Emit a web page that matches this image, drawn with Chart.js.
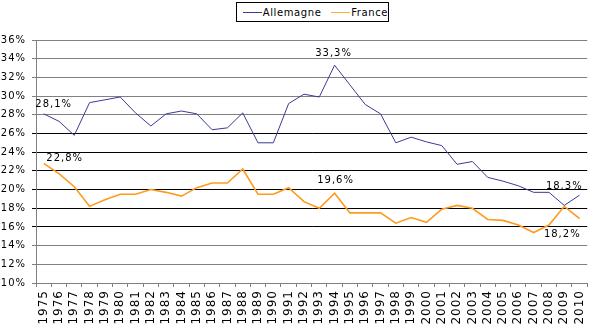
<!DOCTYPE html>
<html>
<head>
<meta charset="utf-8">
<script src="https://cdn.jsdelivr.net/npm/chart.js@4"></script>
<style>
  body { margin: 0; background: #fff; }
  #wrap { position: relative; width: 597px; height: 330px; }
  #legend {
    position: absolute; left: 236px; top: 2px; width: 151px; height: 18px;
    border: 1px solid #000; background: #fff;
    font: 10px "DejaVu Sans", Verdana, sans-serif; letter-spacing: 0.6px; color: #000;
    display: flex; align-items: center;
  }
  #legend span.line { display: inline-block; width: 19px; height: 0; margin: 0 1px 0 6px; }
</style>
</head>
<body>
<div id="wrap">
  <canvas id="chart" width="597" height="330"></canvas>
  <div id="legend">
    <span class="line" style="border-top:1px solid #3A3A96"></span><span>Allemagne</span>
    <span class="line" style="border-top:1px solid #FFB030;margin-left:10px"></span><span>France</span>
  </div>
</div>
<script>
// --- data ---
const years = [];
for (let y = 1975; y <= 2010; y++) years.push(String(y));

const allemagne = [28.1, 27.3, 25.8, 29.3, 29.6, 29.9, 28.2, 26.8, 28.1, 28.4, 28.1, 26.4, 26.6, 28.2, 25.0, 25.0,
                   29.2, 30.2, 29.9, 33.3, 31.2, 29.1, 28.1, 25.0, 25.6, 25.1, 24.7, 22.7, 23.0, 21.3, 20.9, 20.4,
                   19.7, 19.7, 18.3, 19.4];
const france = [22.8, 21.7, 20.3, 18.2, 18.9, 19.5, 19.5, 20.0, 19.7, 19.3, 20.2, 20.7, 20.7, 22.2, 19.5, 19.5,
                20.2, 18.7, 18.0, 19.6, 17.5, 17.5, 17.5, 16.4, 17.0, 16.5, 17.9, 18.3, 18.0, 16.8, 16.7, 16.2,
                15.4, 16.2, 18.2, 16.9];

// value labels: [series, year index, text, dx, dy]
const valueLabels = [
  [0, 0, '28,1%', 10, -9],
  [1, 0, '22,8%', 21, -5],
  [0, 19, '33,3%', -1, -12],
  [1, 19, '19,6%', 1, -13],
  [0, 34, '18,3%', 0, -19],
  [1, 34, '18,2%', -2, 28]
];

const FONT = '"DejaVu Sans", Verdana, sans-serif';

const spacingPlugin = {
  id: 'spacing',
  beforeDraw(chart) { chart.ctx.letterSpacing = '1px'; }
};

const labelPlugin = {
  id: 'valueLabels',
  afterDatasetsDraw(chart) {
    const ctx = chart.ctx;
    ctx.save();
    ctx.letterSpacing = '1px';
    ctx.font = '10px ' + FONT;
    ctx.fillStyle = '#000';
    ctx.textAlign = 'center';
    ctx.textBaseline = 'middle';
    valueLabels.forEach(([ds, i, txt, dx, dy]) => {
      const pt = chart.getDatasetMeta(ds).data[i];
      ctx.fillText(txt, pt.x + dx, pt.y + dy);
    });
    ctx.restore();
  }
};

new Chart(document.getElementById('chart'), {
  type: 'line',
  data: {
    labels: years,
    datasets: [
      { label: 'Allemagne', data: allemagne, borderColor: '#3A3A96', borderWidth: 1, pointRadius: 0, tension: 0 },
      { label: 'France', data: france, borderColor: '#FF9A1F', borderWidth: 1.6, pointRadius: 0, tension: 0 }
    ]
  },
  options: {
    responsive: false,
    devicePixelRatio: 1,
    animation: false,
    layout: { padding: { left: 0, right: 1, top: 40, bottom: 0 } },
    plugins: { legend: { display: false }, tooltip: { enabled: false } },
    scales: {
      x: {
        offset: true,
        grid: { offset: true, drawOnChartArea: false, drawTicks: true, tickLength: 4, color: '#808080' },
        border: { color: '#808080' },
        ticks: {
          autoSkip: false, minRotation: 90, maxRotation: 90, padding: 3,
          color: '#000', font: { family: FONT, size: 12 }
        },
        afterFit(scale) { scale.height = 47; }
      },
      y: {
        min: 10, max: 36,
        grid: {
          tickLength: 4,
          color: (c) => {
            const v = c.tick ? c.tick.value : 0;
            return (v >= 16 && v <= 26) ? '#000' : '#808080';
          }
        },
        border: { color: '#808080' },
        ticks: {
          stepSize: 2, padding: 6, color: '#000',
          font: { family: FONT, size: 10 },
          callback: (v) => v + '%'
        },
        afterFit(scale) { scale.width = 36; }
      }
    }
  },
  plugins: [spacingPlugin, labelPlugin]
});
</script>
</body>
</html>
